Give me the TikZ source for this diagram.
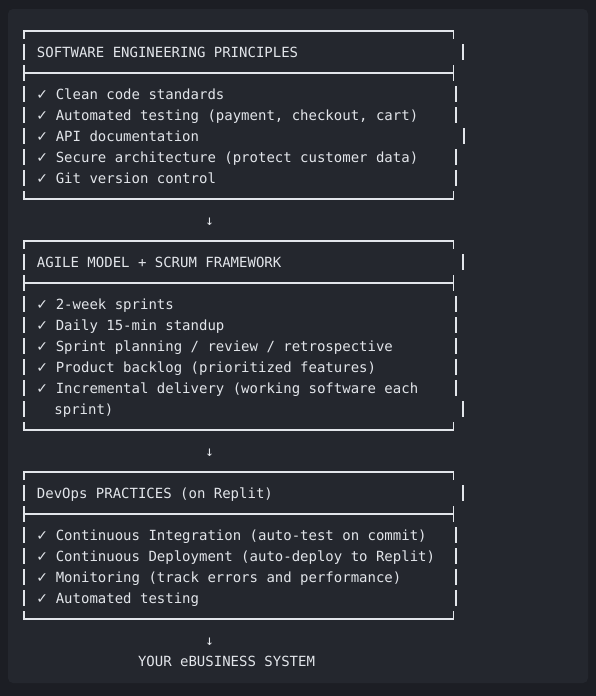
\documentclass[tikz,border=0pt]{standalone}
\usepackage{fontspec}
\newfontfamily\mono{DejaVu Sans Mono}
\newfontfamily\symf{DejaVu Sans}
\definecolor{outerbg}{HTML}{1C1E24}
\definecolor{panel}{HTML}{24272E}
\definecolor{ink}{HTML}{E2E5EA}
\tikzset{
  txt/.style={anchor=base west, inner sep=0pt, text=ink, font=\mono\fontsize{14}{17}\selectfont},
  chk/.style={anchor=base west, inner sep=0pt, text=ink, font=\symf\fontsize{14}{17}\selectfont},
  arr/.style={anchor=base, inner sep=0pt, text=ink, font=\mono\fontsize{14}{17}\selectfont},
  rule/.style={draw=ink, line width=1.1pt},
}
\newcommand\vbar[2]{\draw[rule] (#1,#2-8) -- (#1,#2+8);}
\newcommand\boxtop[1]{\draw[rule] (24,#1+8) -- (24,#1) -- (453.5,#1) -- (453.5,#1+8);}
\newcommand\boxsep[1]{\draw[rule] (24,#1-8) -- (24,#1+8); \draw[rule] (24,#1) -- (453.5,#1); \draw[rule] (453.5,#1-8) -- (453.5,#1+8);}
\newcommand\boxbot[1]{\draw[rule] (24,#1-8) -- (24,#1) -- (453.5,#1) -- (453.5,#1-8);}
\begin{document}
\begin{tikzpicture}[x=1pt,y=-1pt]
\useasboundingbox (0,0) rectangle (596,696);
\fill[outerbg] (0,0) rectangle (596,696);
\fill[panel, rounded corners=5pt] (8,9) rectangle (588,683);

% ---------- Block 1 ----------
\boxtop{31}
\boxsep{73}
\boxbot{199}
\foreach \y in {52,94,115,136,157,178} {\vbar{24}{\y}}
\vbar{463}{52}
\foreach \y in {94,115,157,178} {\vbar{456}{\y}}
\vbar{464}{136}
\node[txt] (t1) at (36.7,57) {SOFTWARE ENGINEERING PRINCIPLES};
\foreach \y/\n in {94/a,115/b,136/c,157/d,178/e} {\node[chk] (c1\n) at (36.2,\y+5) {✓};}
\node[txt] (i1a) at (55.6,99) {Clean code standards};
\node[txt] (i1b) at (55.6,120) {Automated testing (payment, checkout, cart)};
\node[txt] (i1c) at (55.6,141) {API documentation};
\node[txt] (i1d) at (55.6,162) {Secure architecture (protect customer data)};
\node[txt] (i1e) at (55.6,183) {Git version control};

\node[arr] (a1) at (209.5,225) {↓};

% ---------- Block 2 ----------
\boxtop{241}
\boxsep{283}
\boxbot{430}
\foreach \y in {262,304,325,346,367,388,409} {\vbar{24}{\y}}
\vbar{463}{262}
\foreach \y in {304,325,346,367,388} {\vbar{456}{\y}}
\vbar{463}{409}
\node[txt] (t2) at (36.7,267) {AGILE MODEL + SCRUM FRAMEWORK};
\foreach \y/\n in {304/a,325/b,346/c,367/d,388/e} {\node[chk] (c2\n) at (36.2,\y+5) {✓};}
\node[txt] (i2a) at (55.6,309) {2-week sprints};
\node[txt] (i2b) at (55.6,330) {Daily 15-min standup};
\node[txt] (i2c) at (55.6,351) {Sprint planning / review / retrospective};
\node[txt] (i2d) at (55.6,372) {Product backlog (prioritized features)};
\node[txt] (i2e) at (55.6,393) {Incremental delivery (working software each};
\node[txt] (i2f) at (54.2,414) {sprint)};

\node[arr] (a2) at (209.5,456) {↓};

% ---------- Block 3 ----------
\boxtop{472}
\boxsep{514}
\boxbot{619}
\foreach \y in {493,535,556,577,598} {\vbar{24}{\y}}
\vbar{463}{493}
\foreach \y in {535,556,577,598} {\vbar{456}{\y}}
\node[txt] (t3) at (36.7,498) {DevOps PRACTICES (on Replit)};
\foreach \y/\n in {535/a,556/b,577/c,598/d} {\node[chk] (c3\n) at (36.2,\y+5) {✓};}
\node[txt] (i3a) at (55.6,540) {Continuous Integration (auto-test on commit)};
\node[txt] (i3b) at (55.6,561) {Continuous Deployment (auto-deploy to Replit)};
\node[txt] (i3c) at (55.6,582) {Monitoring (track errors and performance)};
\node[txt] (i3d) at (55.6,603) {Automated testing};

\node[arr] (a3) at (209.5,645) {↓};
\node[txt] (fin) at (137.8,666) {YOUR eBUSINESS SYSTEM};
\end{tikzpicture}
\end{document}
